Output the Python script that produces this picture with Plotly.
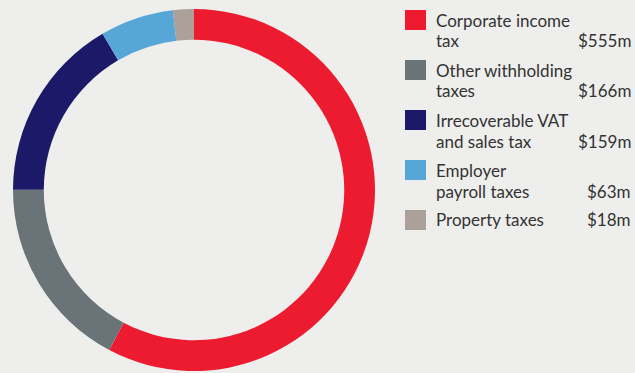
import plotly.graph_objects as go

# Tax contribution by category (US$ millions)
labels = ["Corporate income tax", "Other withholding taxes", "Irrecoverable VAT and sales tax",
          "Employer payroll taxes", "Property taxes"]
legend_lines = [["Corporate income", "tax"], ["Other withholding", "taxes"],
                ["Irrecoverable VAT", "and sales tax"], ["Employer", "payroll taxes"],
                ["Property taxes"]]
values = [555, 166, 159, 63, 18]
value_labels = ["$555m", "$166m", "$159m", "$63m", "$18m"]
colors = ["#ED1B2F", "#6A7378", "#1C1A68", "#57A6D8", "#ACA19A"]

W, H = 635, 373
BG = "#EEEEEC"
TEXT = "#333333"
FONT = "Lato"

fig = go.Figure()
fig.add_trace(go.Pie(
    labels=labels, values=values, sort=False, direction="clockwise", rotation=0,
    hole=0.83, textinfo="none", hoverinfo="label+value",
    marker=dict(colors=colors, line=dict(width=0)),
    domain=dict(x=[13 / W, 375 / W], y=[2 / H, 364 / H]),
    showlegend=False,
))

# Custom legend on the right: swatch, wrapped label, value
shapes, annotations = [], []
for i, (lines, val, col) in enumerate(zip(legend_lines, value_labels, colors)):
    top = 10 + 50 * i
    shapes.append(dict(type="rect", xref="paper", yref="paper",
                       x0=405 / W, x1=426 / W, y0=1 - (top + 20) / H, y1=1 - top / H,
                       fillcolor=col, line=dict(width=0)))
    for j, ln in enumerate(lines):
        yc = top + 10 + 21 * j
        annotations.append(dict(text=ln, xref="paper", yref="paper", x=434 / W, y=1 - yc / H,
                                xanchor="left", yanchor="middle", showarrow=False,
                                font=dict(family=FONT, size=17, color=TEXT)))
    yv = top + 10 + 21 * (len(lines) - 1)
    annotations.append(dict(text=val, xref="paper", yref="paper", x=633 / W, y=1 - yv / H,
                            xanchor="right", yanchor="middle", showarrow=False,
                            font=dict(family=FONT, size=17, color=TEXT)))

fig.update_layout(
    width=W, height=H, margin=dict(l=0, r=0, t=0, b=0),
    paper_bgcolor=BG, plot_bgcolor=BG,
    shapes=shapes, annotations=annotations,
)

fig.write_html("out.html")
